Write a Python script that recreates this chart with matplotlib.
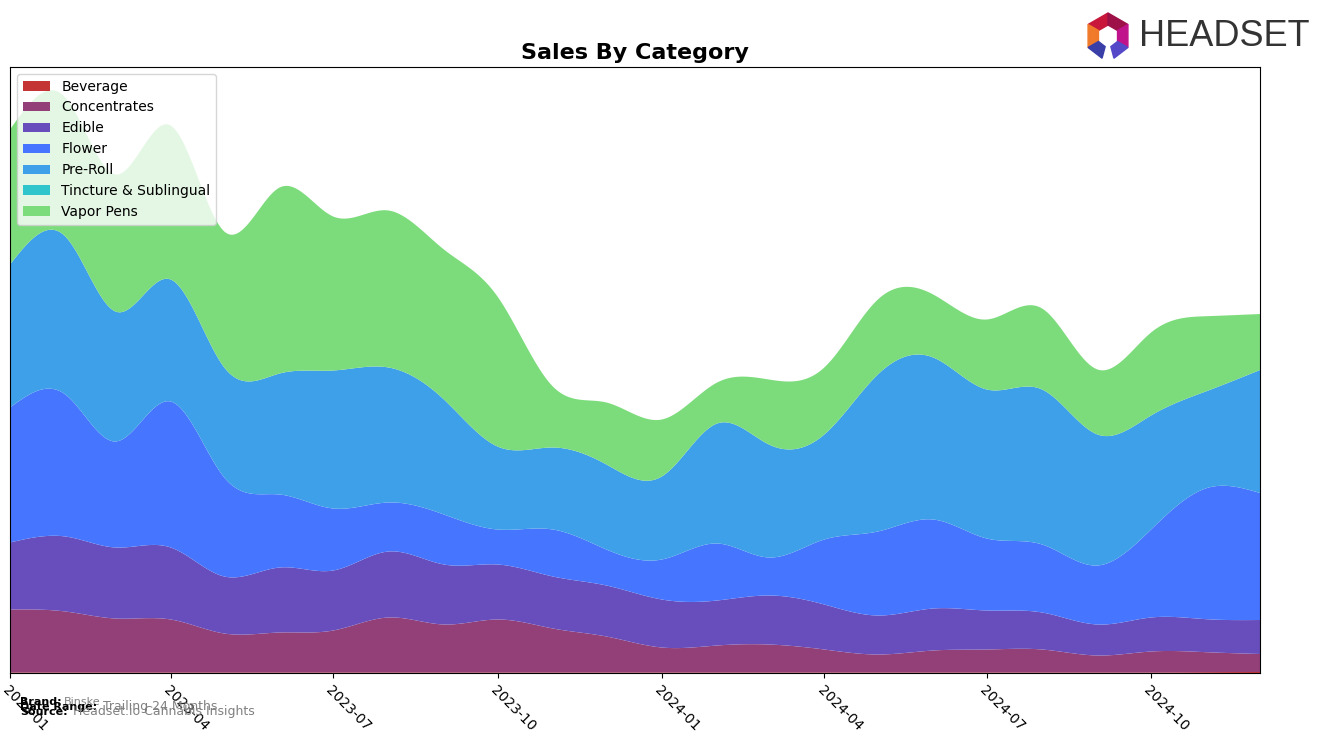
import numpy as np
import pandas as pd
import matplotlib
matplotlib.use("Agg")
import matplotlib.pyplot as plt
import matplotlib.dates as mdates
from matplotlib.patches import Polygon

# monthly sales by category (relative units)
months = pd.date_range("2023-01-01", "2024-12-01", freq="MS")
categories = ["Beverage", "Concentrates", "Edible", "Flower", "Pre-Roll",
              "Tincture & Sublingual", "Vapor Pens"]
beverage = [0.5, 0.5, 0.5, 0.5, 0.5, 0.5, 0.5, 0.5, 0.5, 0.5, 0.5, 0.5,
            0.5, 0.5, 0.5, 0.5, 0.5, 0.5, 0.5, 0.5, 0.5, 0.5, 0.8, 1.0]
concentrates = [63, 61, 54, 53, 39, 40, 42, 55, 48, 53, 44, 36,
                25, 27, 28, 23, 18, 22, 23, 23, 17, 21, 20, 18]
edible = [67, 75, 71, 72, 57, 65, 60, 66, 60, 55, 52, 51,
          48, 45, 49, 45, 39, 42, 39, 37, 31, 34, 33, 34]
flower = [135, 142, 106, 146, 99, 73, 62, 49, 50, 35, 47, 36,
          40, 57, 38, 65, 84, 89, 72, 68, 59, 88, 131, 127]
preroll = [143, 158, 130, 122, 110, 121, 138, 135, 115, 83, 82, 85,
           83, 120, 113, 105, 157, 162, 149, 155, 131, 114, 97, 123]
tincture = [0] * 24
vapor = [135, 139, 137, 154, 136, 186, 154, 157, 150, 150, 61, 62,
         57, 41, 65, 67, 75, 63, 70, 81, 65, 83, 75, 56]

colors = ["#C43434", "#944078", "#684EBC", "#4676FF", "#3EA0E8",
          "#30C4CC", "#7CDC7C"]


def smooth(x, y, xs):
    # natural cubic spline through the monthly points
    x = np.asarray(x, float)
    y = np.asarray(y, float)
    n = len(x)
    h = np.diff(x)
    A = np.zeros((n, n))
    r = np.zeros(n)
    A[0, 0] = A[-1, -1] = 1
    for i in range(1, n - 1):
        A[i, i - 1] = h[i - 1]
        A[i, i] = 2 * (h[i - 1] + h[i])
        A[i, i + 1] = h[i]
        r[i] = 3 * ((y[i + 1] - y[i]) / h[i] - (y[i] - y[i - 1]) / h[i - 1])
    c = np.linalg.solve(A, r)
    b = (y[1:] - y[:-1]) / h - h * (2 * c[:-1] + c[1:]) / 3
    d = (c[1:] - c[:-1]) / (3 * h)
    idx = np.clip(np.searchsorted(x, xs) - 1, 0, n - 2)
    dx = xs - x[idx]
    return y[idx] + b[idx] * dx + c[idx] * dx ** 2 + d[idx] * dx ** 3


xnum = mdates.date2num(months)
xs = np.linspace(xnum[0], xnum[-1], 600)
series = [beverage, concentrates, edible, flower, preroll, tincture, vapor]
ys = [np.clip(smooth(xnum, s, xs), 0, None) for s in series]

W, H = 1324, 743
fig = plt.figure(figsize=(W / 100, H / 100), dpi=100)
ax = fig.add_axes([10 / W, 70 / H, 1250 / W, 606 / H])
ax.stackplot(xs, *ys, labels=categories, colors=colors)

ax.set_xlim(xnum[0], xnum[-1])
ax.set_ylim(0, 606)
ax.set_yticks([])
ticks = pd.date_range("2023-01-01", "2024-10-01", freq="3MS")
ax.set_xticks(mdates.date2num(ticks))
ax.set_xticklabels([t.strftime("%Y-%m") for t in ticks], rotation=-45,
                   ha="left", rotation_mode="anchor", fontsize=10)
ax.set_title("Sales By Category", fontsize=16, fontweight="bold")
ax.legend(loc="upper left", fontsize=10)

# footer
fig.text(20 / W, 1 - 705 / H, "Brand:", fontsize=8, fontweight="bold")
fig.text(64 / W, 1 - 705 / H, "Binske", fontsize=8, color="gray")
fig.text(20 / W, 1 - 710 / H, "Date Range:", fontsize=8, fontweight="bold")
fig.text(103 / W, 1 - 710 / H, "Trailing 24 Months", fontsize=9, color="gray")
fig.text(20 / W, 1 - 715 / H, "Source:", fontsize=8, fontweight="bold")
fig.text(73 / W, 1 - 715 / H, "Headset.io Cannabis Insights", fontsize=9, color="gray")

# logo mark
cx, cy, ro, ri = 1108, 36, 23, 11
seg = [(150, 90, "#C8173A"), (90, 30, "#9E1048"), (30, -30, "#C0128A"),
       (-30, -75, "#5448C8"), (-150, 150, "#F07A2A"), (-105, -150, "#3A3FA8")]
for a0, a1, col in seg:
    pts = []
    for a in (a0, a1):
        t = np.radians(a)
        pts.append(((cx + ro * np.cos(t)) / W, 1 - (cy - ro * np.sin(t)) / H))
    for a in (a1, a0):
        t = np.radians(a)
        pts.append(((cx + ri * np.cos(t)) / W, 1 - (cy - ri * np.sin(t)) / H))
    fig.patches.append(Polygon(pts, closed=True, color=col, transform=fig.transFigure))

fig.text(1139 / W, 1 - 37 / H, "HEADSET", fontsize=26, color="#333333",
         family=["Liberation Sans", "DejaVu Sans"], va="center")

fig.savefig("out.png", dpi=100)
